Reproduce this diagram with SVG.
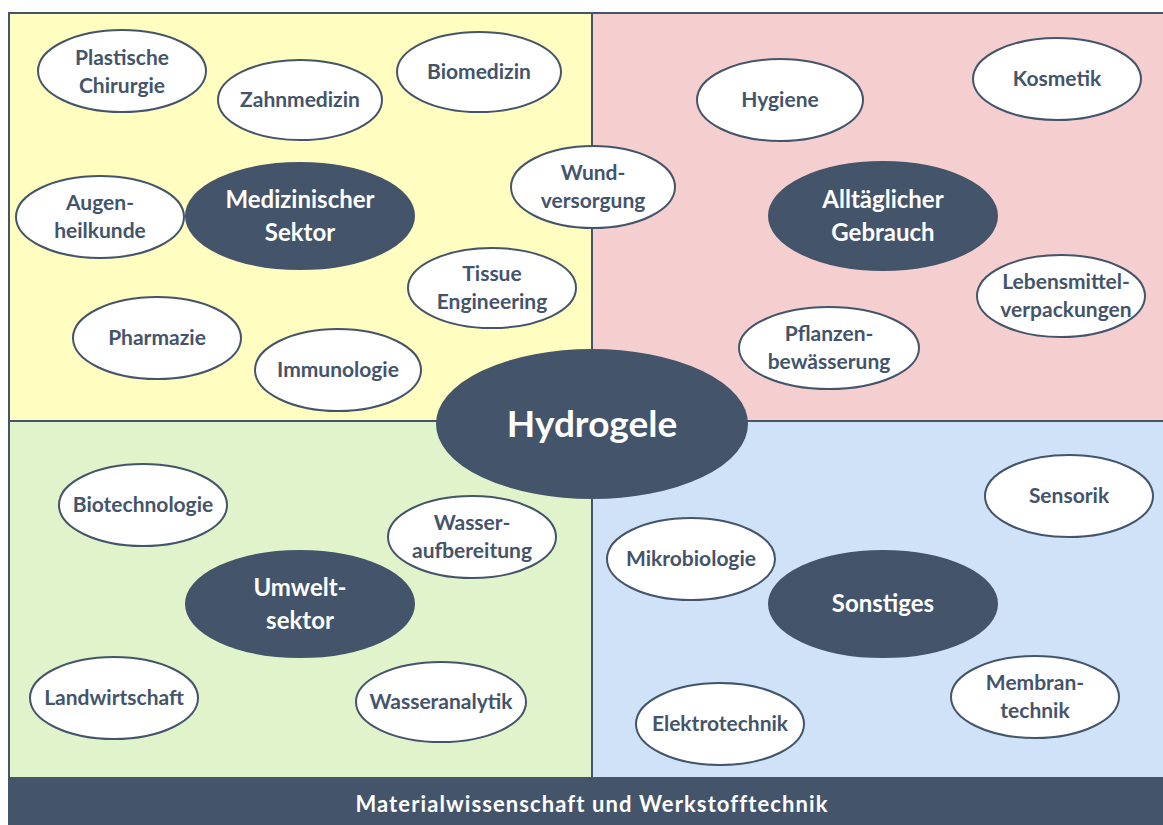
<svg xmlns="http://www.w3.org/2000/svg" width="1163" height="825" viewBox="0 0 1163 825">
<style>
.q{stroke:#44546A;stroke-width:2}
.w{fill:#fff;stroke:#44546A;stroke-width:2}
.d{fill:#44546A;stroke:#44546A;stroke-width:2}
text{font-family:"Lato","Open Sans","Liberation Sans",sans-serif;font-weight:bold;text-anchor:middle}
.t{fill:#44546A;font-size:21px}
.dt{fill:#fff;font-size:24px}
.h{fill:#fff;font-size:37px}
.b{fill:#fff;font-size:22px;letter-spacing:1.1px}
</style>
<rect width="1163" height="825" fill="#fff"/>
<g id="quadrants">
<rect class="q" x="9" y="13" width="583" height="408" fill="#FFFDBF"/>
<rect class="q" x="592" y="13" width="580" height="408" fill="#F5CECF"/>
<rect class="q" x="9" y="421" width="583" height="357" fill="#E1F3CB"/>
<rect class="q" x="592" y="421" width="580" height="357" fill="#CFE2F8"/>
</g>
<g id="bar">
<rect x="9" y="778" width="1163" height="50" fill="#44546A" stroke="#44546A" stroke-width="2"/>
<text class="b" x="592" y="812">Materialwissenschaft und Werkstofftechnik</text>
</g>
<g id="connectors"></g>
<g id="n-plastische"><ellipse class="w" cx="122" cy="71" rx="84" ry="41"/><text class="t" x="122" y="65">Plastische</text><text class="t" x="122" y="93">Chirurgie</text></g>
<g id="n-zahnmedizin"><ellipse class="w" cx="300" cy="100" rx="82" ry="40"/><text class="t" x="300" y="107">Zahnmedizin</text></g>
<g id="n-biomedizin"><ellipse class="w" cx="479" cy="72" rx="82" ry="40"/><text class="t" x="479" y="79">Biomedizin</text></g>
<g id="n-wund"><ellipse class="w" cx="593" cy="187" rx="82" ry="41"/><text class="t" x="593" y="180">Wund-</text><text class="t" x="593" y="208">versorgung</text></g>
<g id="n-augen"><ellipse class="w" cx="100" cy="217" rx="84" ry="41"/><text class="t" x="100" y="210">Augen-</text><text class="t" x="100" y="238">heilkunde</text></g>
<g id="n-medizin"><ellipse class="d" cx="300" cy="216" rx="114" ry="53"/><text class="dt" x="300" y="208">Medizinischer</text><text class="dt" x="300" y="241">Sektor</text></g>
<g id="n-tissue"><ellipse class="w" cx="492" cy="288" rx="84" ry="40"/><text class="t" x="492" y="281">Tissue</text><text class="t" x="492" y="309">Engineering</text></g>
<g id="n-pharmazie"><ellipse class="w" cx="157" cy="338" rx="84" ry="41"/><text class="t" x="157" y="345">Pharmazie</text></g>
<g id="n-immunologie"><ellipse class="w" cx="338" cy="370" rx="83" ry="41"/><text class="t" x="338" y="377">Immunologie</text></g>
<g id="n-hygiene"><ellipse class="w" cx="780" cy="100" rx="83" ry="41"/><text class="t" x="780" y="107">Hygiene</text></g>
<g id="n-kosmetik"><ellipse class="w" cx="1057" cy="79" rx="84" ry="41"/><text class="t" x="1057" y="86">Kosmetik</text></g>
<g id="n-alltag"><ellipse class="d" cx="883" cy="216" rx="114" ry="54"/><text class="dt" x="883" y="208">Alltäglicher</text><text class="dt" x="883" y="241">Gebrauch</text></g>
<g id="n-lebensmittel"><ellipse class="w" cx="1061" cy="296" rx="84" ry="41"/><text class="t" x="1066" y="289">Lebensmittel-</text><text class="t" x="1066" y="317">verpackungen</text></g>
<g id="n-pflanzen"><ellipse class="w" cx="829" cy="348" rx="90" ry="41"/><text class="t" x="829" y="341">Pflanzen-</text><text class="t" x="829" y="369">bewässerung</text></g>
<g id="n-hydrogele"><ellipse class="d" cx="592" cy="424" rx="155" ry="74"/><text class="h" x="592" y="437">Hydrogele</text></g>
<g id="n-biotech"><ellipse class="w" cx="143" cy="505" rx="84" ry="41"/><text class="t" x="143" y="512">Biotechnologie</text></g>
<g id="n-wasserauf"><ellipse class="w" cx="472" cy="537" rx="84" ry="41"/><text class="t" x="472" y="530">Wasser-</text><text class="t" x="472" y="558">aufbereitung</text></g>
<g id="n-umwelt"><ellipse class="d" cx="300" cy="604" rx="114" ry="53"/><text class="dt" x="300" y="596">Umwelt-</text><text class="dt" x="300" y="629">sektor</text></g>
<g id="n-landwirtschaft"><ellipse class="w" cx="114" cy="698" rx="84" ry="41"/><text class="t" x="114" y="705">Landwirtschaft</text></g>
<g id="n-wasseranalytik"><ellipse class="w" cx="441" cy="702" rx="85" ry="40"/><text class="t" x="441" y="709">Wasseranalytik</text></g>
<g id="n-sensorik"><ellipse class="w" cx="1069" cy="496" rx="84" ry="41"/><text class="t" x="1069" y="503">Sensorik</text></g>
<g id="n-mikro"><ellipse class="w" cx="691" cy="559" rx="84" ry="41"/><text class="t" x="691" y="566">Mikrobiologie</text></g>
<g id="n-sonstiges"><ellipse class="d" cx="883" cy="604" rx="114" ry="53"/><text class="dt" x="883" y="612">Sonstiges</text></g>
<g id="n-membran"><ellipse class="w" cx="1035" cy="697" rx="84" ry="41"/><text class="t" x="1035" y="690">Membran-</text><text class="t" x="1035" y="718">technik</text></g>
<g id="n-elektro"><ellipse class="w" cx="720" cy="724" rx="84" ry="41"/><text class="t" x="720" y="731">Elektrotechnik</text></g>
</svg>
